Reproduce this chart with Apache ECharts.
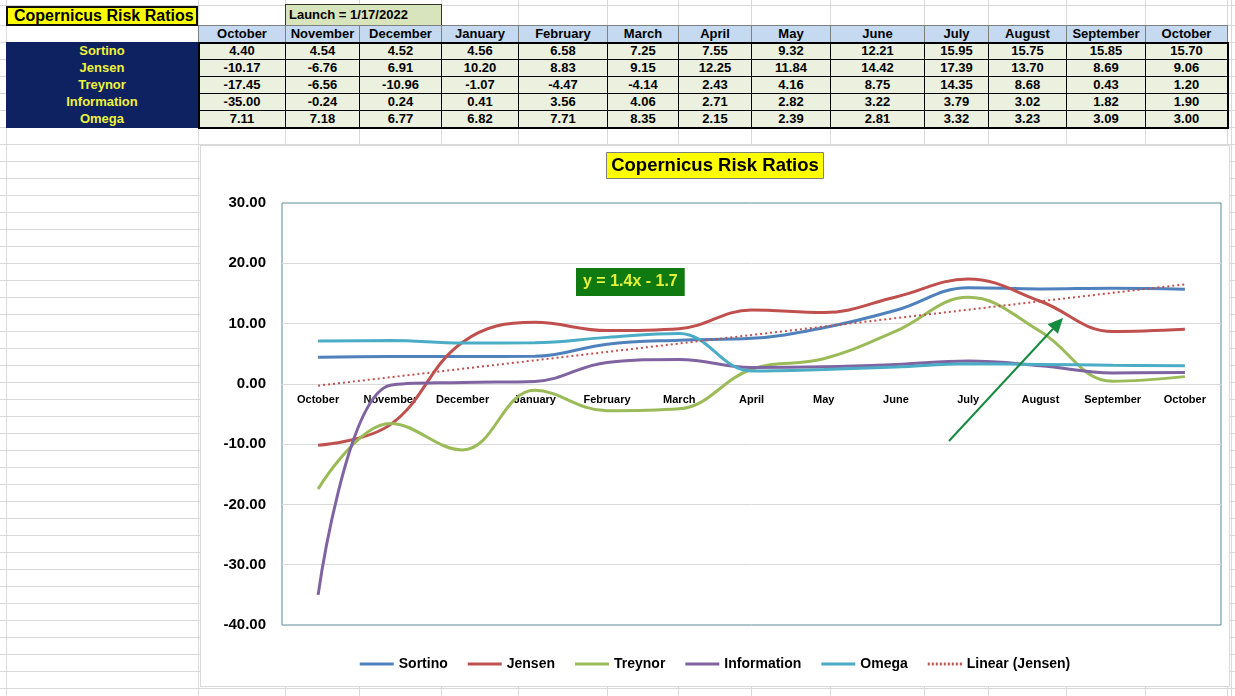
<!DOCTYPE html>
<html><head><meta charset="utf-8">
<script src="https://cdn.jsdelivr.net/npm/echarts@6/dist/echarts.min.js"></script>
<style>
html,body{margin:0;padding:0;background:#fff;width:1235px;height:696px;overflow:hidden;font-family:"Liberation Sans",Arial,sans-serif;}
.gl{position:absolute;background:#d9d9d9;}
.cell{position:absolute;box-sizing:border-box;font-weight:bold;font-size:13px;text-align:center;white-space:nowrap;line-height:16px;color:#000;}
#chartBox{position:absolute;left:200px;top:145px;width:1030px;height:542px;box-sizing:border-box;border:1px solid #d9d9d9;background:#fff;}
#chart{width:1028px;height:540px;}
</style></head>
<body>
<div id="sheet"></div>
<div id="chartBox"><div id="chart"></div></div>
<script>
// ---- data ----
const months = ['October','November','December','January','February','March','April','May','June','July','August','September','October'];
const seriesNames = ['Sortino','Jensen','Treynor','Information','Omega'];
const sortino = [4.40,4.54,4.52,4.56,6.58,7.25,7.55,9.32,12.21,15.95,15.75,15.85,15.70];
const jensen = [-10.17,-6.76,6.91,10.20,8.83,9.15,12.25,11.84,14.42,17.39,13.70,8.69,9.06];
const treynor = [-17.45,-6.56,-10.96,-1.07,-4.47,-4.14,2.43,4.16,8.75,14.35,8.68,0.43,1.20];
const information = [-35.00,-0.24,0.24,0.41,3.56,4.06,2.71,2.82,3.22,3.79,3.02,1.82,1.90];
const omega = [7.11,7.18,6.77,6.82,7.71,8.35,2.15,2.39,2.81,3.32,3.23,3.09,3.00];
const trendName = 'Linear (Jensen)';
const jensenTrend = [-0.3,null,null,null,null,null,null,null,null,null,null,null,16.5];
const tableTitle = 'Copernicus Risk Ratios';
const chartTitle = 'Copernicus Risk Ratios';
const launchText = 'Launch = 1/17/2022';
const trendLabel = 'y = 1.4x - 1.7';

// ---- spreadsheet layout ----
const sheet = document.getElementById('sheet');
const colX = [6,198,285,359,441,518,607,678,751,830,924,988,1066,1145,1227];
function add(cls, css, text){
  const d = document.createElement('div'); d.className = cls;
  Object.assign(d.style, css); if (text !== undefined) d.textContent = text;
  sheet.appendChild(d); return d;
}
add('gl',{left:'0px',top:'5px',width:'1235px',height:'1px'});
for (let y = 25; y < 696; y += 17) add('gl',{left:'0px',top:y+'px',width:'1235px',height:'1px'});
colX.concat([1231]).forEach(x => add('gl',{left:x+'px',top:'0px',width:'1px',height:'696px'}));

add('cell',{left:'6px',top:'6px',width:'192px',height:'20px',background:'#ffff00',border:'2px solid #111',
  fontSize:'16px',lineHeight:'16px',textAlign:'left',paddingLeft:'6px'}, tableTitle);
add('cell',{left:'285px',top:'4px',width:'157px',height:'22px',background:'#d8e4bc',border:'1px solid #333',
  textAlign:'left',paddingLeft:'3px',lineHeight:'20px'}, launchText);
months.forEach((m,i)=>{
  add('cell',{left:colX[i+1]+'px',top:'25px',width:(colX[i+2]-colX[i+1]+1)+'px',height:'18px',
    background:'#c5d9f1',border:'1px solid #7f7f7f'}, m);
});
add('cell',{left:'6px',top:'42px',width:'192px',height:'86px',background:'#0e2160'});
const rows = [sortino,jensen,treynor,information,omega];
rows.forEach((vals,r)=>{
  const top = 42 + r*17;
  add('cell',{left:'6px',top:(top+1)+'px',width:'192px',height:'17px',color:'#eef23c'}, seriesNames[r]);
  vals.forEach((v,i)=>{
    add('cell',{left:colX[i+1]+'px',top:top+'px',width:(colX[i+2]-colX[i+1]+1)+'px',height:'18px',
      background:'#ebf1de',border:'1px solid #000'}, v.toFixed(2));
  });
});
add('cell',{left:'198px',top:'42px',width:'1031px',height:'87px',border:'2px solid #000',background:'transparent'});

// ---- chart ----
const colors = ['#4f81bd','#c0504d','#9bbb59','#8064a2','#4bacc6'];
const chart = echarts.init(document.getElementById('chart'));
const ff = '"Liberation Sans", Arial, sans-serif';
const series = rows.map((vals,i)=>({
  name: seriesNames[i], type:'line', data: vals, smooth: 0.4, symbol:'none', showSymbol:false,
  lineStyle:{width:3,color:colors[i]}, itemStyle:{color:colors[i]}
}));
series.push({name:trendName,type:'line',data:jensenTrend,connectNulls:true,symbol:'none',showSymbol:false,
  lineStyle:{width:2,type:[2,3],color:'#c0504d'},itemStyle:{color:'#c0504d'},z:5});

let dotPath = 'path://';
for (let x = 0; x < 34; x += 4) dotPath += 'M' + x + ',0h2v3h-2z';
const legendData = seriesNames.map(n=>({name:n,icon:'rect'})).concat([{name:trendName,icon:dotPath}]);

const aS = [748,295], aT = [862,172];
const dx = aT[0]-aS[0], dy = aT[1]-aS[1], L = Math.hypot(dx,dy), ux = dx/L, uy = dy/L;
const hl = 15, hw = 7;
const bx = aT[0]-ux*hl, by = aT[1]-uy*hl;

chart.setOption({
  animation:false,
  textStyle:{fontFamily:ff},
  title:{text:chartTitle,left:'center',top:6,padding:[4,5],backgroundColor:'#ffff00',borderColor:'#7f7f7f',borderWidth:1,
    textStyle:{fontFamily:ff,fontWeight:'bold',fontSize:18.5,color:'#000'}},
  grid:{left:81,top:57,right:8,bottom:61,show:true,borderColor:'#5d8a96',borderWidth:1,backgroundColor:'transparent'},
  xAxis:{type:'category',data:months,boundaryGap:true,offset:0,
    axisLine:{onZero:false,lineStyle:{color:'#d9d9d9'}},axisTick:{show:false},
    axisLabel:{interval:0,margin:11,fontSize:11,fontWeight:'bold',color:'#000',fontFamily:ff},splitLine:{show:false}},
  yAxis:{type:'value',min:-40,max:30,interval:10,axisLine:{show:false},axisTick:{show:false},
    axisLabel:{formatter:v=>v.toFixed(2),fontSize:15,fontWeight:'bold',color:'#000',margin:16,fontFamily:ff},
    splitLine:{showMinLine:false,showMaxLine:false,lineStyle:{color:'#d9d9d9'}}},
  legend:{data:legendData,top:506,left:'center',itemWidth:34,itemHeight:3,itemGap:20,
    textStyle:{fontSize:14,fontWeight:'bold',color:'#000',fontFamily:ff}},
  series: series,
  graphic:[
    {type:'text',left:375,top:122,z:10,style:{text:trendLabel,fill:'#e5f23c',font:'bold 16px '+ff,
      backgroundColor:'#0f7a10',padding:[6,7]}},
    {type:'line',z:10,shape:{x1:aS[0],y1:aS[1],x2:bx,y2:by},style:{stroke:'#168a3e',lineWidth:2}},
    {type:'polygon',z:10,shape:{points:[[aT[0],aT[1]],[bx+uy*hw,by-ux*hw],[bx-uy*hw,by+ux*hw]]},style:{fill:'#168a3e'}}
  ]
});
const zeroY = chart.convertToPixel({yAxisIndex:0}, 0);
const minY = chart.convertToPixel({yAxisIndex:0}, -40);
chart.setOption({xAxis:{offset: zeroY - minY}});
</script>
</body></html>
